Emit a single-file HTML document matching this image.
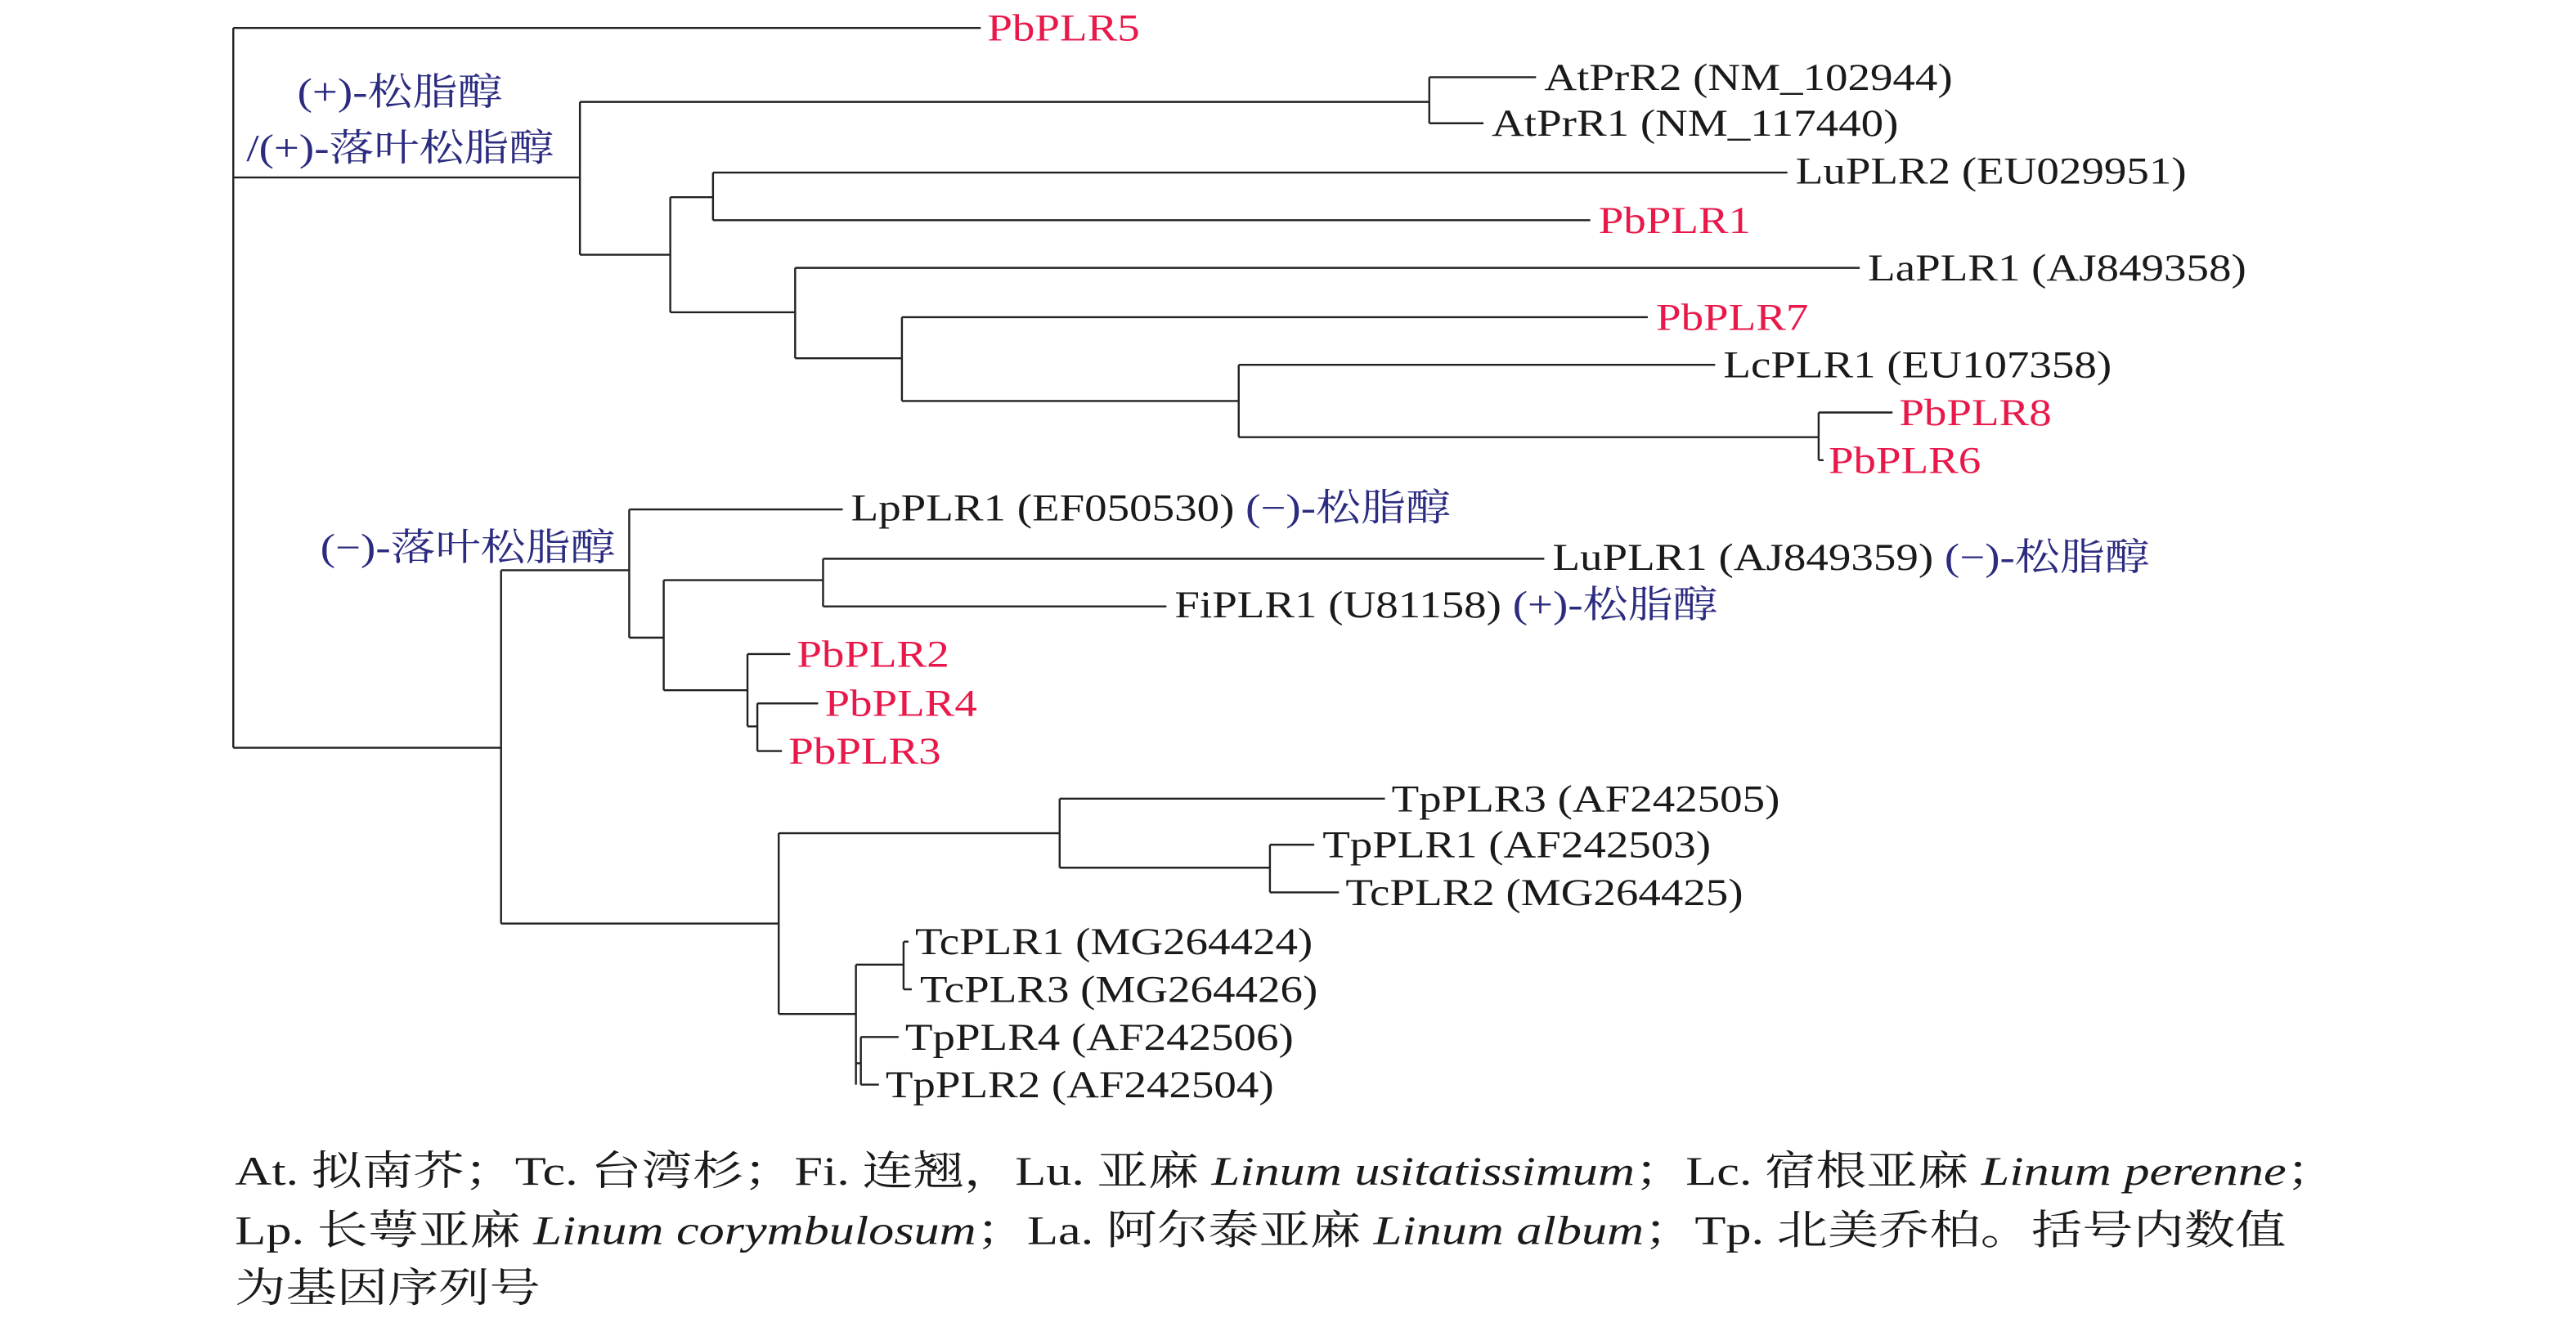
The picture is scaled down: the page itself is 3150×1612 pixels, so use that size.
<!DOCTYPE html>
<html><head><meta charset="utf-8"><style>
html,body{margin:0;padding:0;background:#fff;}
svg{display:block;}
text{font-family:"Liberation Serif","Noto Serif CJK SC","Noto Sans CJK SC",serif;font-size:23px;dominant-baseline:central;}
.r{fill:#e8194a;}
.b{fill:#2b2b80;}
.k{fill:#1a1a1a;}
.c{font-size:25px;fill:#1a1a1a;dominant-baseline:auto;}
</style></head><body>
<svg width="3150" height="1612" viewBox="0 0 1568 802" preserveAspectRatio="none" xmlns="http://www.w3.org/2000/svg">
<g stroke="#222" stroke-width="1.2" fill="none">
<path d="M142 17V455M142 17H597"/>
<path d="M142 108H353M353 62V155M353 62H870M870 47V75M870 47H935M870 75H903"/>
<path d="M353 155H408M408 120V190M408 120H434M434 105V134M434 105H1088M434 134H968"/>
<path d="M408 190H484M484 163V218M484 163H1132M484 218H549M549 193V244M549 193H1003M549 244H754M754 222V266M754 222H1044M754 266H1107M1107 251V280M1107 251H1152M1107 280H1110"/>
<path d="M142 455H305M305 347V562M305 347H383M383 310V388M383 310H513M383 388H404M404 353V420M404 353H501M501 340V369M501 340H940M501 369H710M404 420H455M455 398V442M455 398H481M455 442H461M461 428V457M461 428H498M461 457H476"/>
<path d="M305 562H474M474 507V617M474 507H645M645 486V528M645 486H843M645 528H773M773 514V543M773 514H800M773 543H815"/>
<path d="M474 617H521M521 587V660M521 587H550M550 573V602M550 573H553M550 602H555M521 647H524M524 631V660M524 631H547M524 660H535"/>
</g>
<text transform="translate(601 17) scale(1.19 1)" class="r">PbPLR5</text>
<text transform="translate(940 47) scale(1.19 1)" class="k">AtPrR2 (NM_102944)</text>
<text transform="translate(908 75) scale(1.19 1)" class="k">AtPrR1 (NM_117440)</text>
<text transform="translate(1093 104) scale(1.19 1)" class="k">LuPLR2 (EU029951)</text>
<text transform="translate(973 134) scale(1.19 1)" class="r">PbPLR1</text>
<text transform="translate(1137 163) scale(1.19 1)" class="k">LaPLR1 (AJ849358)</text>
<text transform="translate(1008 193) scale(1.19 1)" class="r">PbPLR7</text>
<text transform="translate(1049 222) scale(1.19 1)" class="k">LcPLR1 (EU107358)</text>
<text transform="translate(1156 251) scale(1.19 1)" class="r">PbPLR8</text>
<text transform="translate(1113 280) scale(1.19 1)" class="r">PbPLR6</text>
<text transform="translate(518 309) scale(1.19 1)" class="k">LpPLR1 (EF050530) <tspan class="b">(−)-松脂醇</tspan></text>
<text transform="translate(945 339) scale(1.19 1)" class="k">LuPLR1 (AJ849359) <tspan class="b">(−)-松脂醇</tspan></text>
<text transform="translate(715 368) scale(1.19 1)" class="k">FiPLR1 (U81158) <tspan class="b">(+)-松脂醇</tspan></text>
<text transform="translate(485 398) scale(1.19 1)" class="r">PbPLR2</text>
<text transform="translate(502 428) scale(1.19 1)" class="r">PbPLR4</text>
<text transform="translate(480 457) scale(1.19 1)" class="r">PbPLR3</text>
<text transform="translate(847 486) scale(1.19 1)" class="k">TpPLR3 (AF242505)</text>
<text transform="translate(805 514) scale(1.19 1)" class="k">TpPLR1 (AF242503)</text>
<text transform="translate(819 543) scale(1.19 1)" class="k">TcPLR2 (MG264425)</text>
<text transform="translate(557 573) scale(1.19 1)" class="k">TcPLR1 (MG264424)</text>
<text transform="translate(560 602) scale(1.19 1)" class="k">TcPLR3 (MG264426)</text>
<text transform="translate(551 631) scale(1.19 1)" class="k">TpPLR4 (AF242506)</text>
<text transform="translate(539 660) scale(1.19 1)" class="k">TpPLR2 (AF242504)</text>
<text transform="translate(181 56) scale(1.19 1)" class="b">(+)-松脂醇</text>
<text transform="translate(150 90) scale(1.19 1)" class="b">/(+)-落叶松脂醇</text>
<text transform="translate(195 333) scale(1.19 1)" class="b">(−)-落叶松脂醇</text>
<text transform="translate(143 721) scale(1.24 1)" class="c">At. 拟南芥；Tc. 台湾杉；Fi. 连翘，Lu. 亚麻 <tspan font-style="italic">Linum usitatissimum</tspan>；Lc. 宿根亚麻 <tspan font-style="italic">Linum perenne</tspan>；</text>
<text transform="translate(143 757) scale(1.24 1)" class="c">Lp. 长萼亚麻 <tspan font-style="italic">Linum corymbulosum</tspan>；La. 阿尔泰亚麻 <tspan font-style="italic">Linum album</tspan>；Tp. 北美乔柏。括号内数值</text>
<text transform="translate(143 792) scale(1.24 1)" class="c">为基因序列号</text>
</svg>
</body></html>
